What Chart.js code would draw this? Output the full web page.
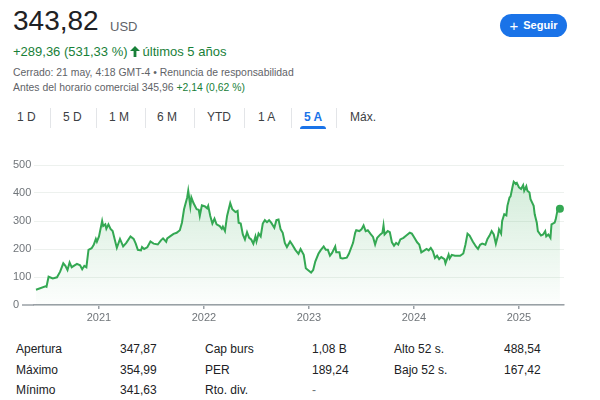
<!DOCTYPE html>
<html>
<head>
<meta charset="utf-8">
<script src="https://cdn.jsdelivr.net/npm/chart.js@4/dist/chart.umd.min.js"></script>
<style>
  body { margin: 0; width: 600px; height: 400px; background: #fff; position: relative; overflow: hidden;
         font-family: "Liberation Sans", Arial, Helvetica, sans-serif; }
  .abs { position: absolute; white-space: nowrap; line-height: 1; }
  .price { left: 13px; top: 7px; font-size: 28px; color: #202124; }
  .cur { left: 110px; top: 20px; font-size: 13px; color: #5f6368; }
  .chg { left: 13px; top: 45px; font-size: 13px; color: #188038; }
  .chg svg { vertical-align: -1px; margin: 0 3px 0 2px; }
  .meta { left: 13px; font-size: 10.4px; color: #5f6368; }
  .green { color: #188038; }
  .btn { left: 500px; top: 14px; width: 67px; height: 23px; border-radius: 12px; background: #1a73e8;
         color: #fff; font-size: 11px; font-weight: bold; display: flex; align-items: center; justify-content: center; }
  .tab { top: 111px; font-size: 12px; color: #3c4043; }
  .sep { top: 108px; width: 1px; height: 20px; background: #e3e5e8; }
  .under { left: 300px; top: 126px; width: 26px; height: 3px; border-radius: 3px 3px 0 0; background: #1a73e8; }
  .st { font-size: 12px; color: #202124; }
  #wrap { position: absolute; left: 0; top: 150px; width: 600px; height: 180px; }
</style>
</head>
<body>
<div class="abs price">343,82</div>
<div class="abs cur">USD</div>
<div class="abs chg">+289,36 (531,33 %)<svg width="10" height="11" viewBox="0 0 10 11"><path d="M5 0 L10 5 L6.4 5 L6.4 11 L3.6 11 L3.6 5 L0 5 Z" fill="#188038"/></svg>últimos 5 años</div>
<div class="abs meta" style="top:68px">Cerrado: 21 may, 4:18 GMT-4 • Renuncia de responsabilidad</div>
<div class="abs meta" style="top:83px">Antes del horario comercial 345,96 <span class="green">+2,14 (0,62 %)</span></div>
<div class="abs btn"><span style="font-size:15px;font-weight:normal;margin-right:5px;">+</span>Seguir</div>

<div id="tabs"></div>
<div class="abs under"></div>

<div id="wrap"><canvas id="chart"></canvas></div>
<div id="stats"></div>

<script>
// range tabs
const tabs = ['1 D', '5 D', '1 M', '6 M', 'YTD', '1 A', '5 A', 'Máx.'];
const tabLeft = [17, 63, 109, 157, 207, 258, 304, 350];
const sepLeft = [50, 96, 145, 194, 244, 291, 336];

// price history (decimal years, USD)
const dates = [
  2020.40, 2020.49, 2020.50, 2020.52, 2020.56, 2020.60, 2020.63, 2020.66, 2020.68, 2020.70,
  2020.72, 2020.74, 2020.79, 2020.82, 2020.84, 2020.86, 2020.88, 2020.90, 2020.93, 2020.95,
  2020.97, 2020.98, 2021.00, 2021.03, 2021.04, 2021.06, 2021.07, 2021.09, 2021.11, 2021.13,
  2021.15, 2021.17, 2021.20, 2021.23, 2021.26, 2021.30, 2021.33, 2021.35, 2021.37, 2021.40,
  2021.41, 2021.43, 2021.46, 2021.49, 2021.52, 2021.56, 2021.59, 2021.61, 2021.64, 2021.65,
  2021.68, 2021.71, 2021.74, 2021.77, 2021.79, 2021.81, 2021.84, 2021.85, 2021.87, 2021.88,
  2021.90, 2021.93, 2021.95, 2021.96, 2021.98, 2022.01, 2022.03, 2022.04, 2022.06, 2022.08,
  2022.10, 2022.12, 2022.15, 2022.17, 2022.18, 2022.20, 2022.22, 2022.25, 2022.27, 2022.30,
  2022.32, 2022.33, 2022.35, 2022.37, 2022.39, 2022.41, 2022.43, 2022.45, 2022.47, 2022.49,
  2022.50, 2022.52, 2022.54, 2022.56, 2022.58, 2022.60, 2022.62, 2022.64, 2022.67, 2022.69,
  2022.71, 2022.73, 2022.75, 2022.77, 2022.79, 2022.82, 2022.84, 2022.87, 2022.90, 2022.92,
  2022.95, 2022.97, 2022.99, 2023.02, 2023.04, 2023.06, 2023.09, 2023.11, 2023.14, 2023.16,
  2023.18, 2023.20, 2023.22, 2023.25, 2023.26, 2023.29, 2023.30, 2023.32, 2023.36, 2023.38,
  2023.42, 2023.44, 2023.45, 2023.48, 2023.50, 2023.52, 2023.54, 2023.56, 2023.59, 2023.61,
  2023.63, 2023.65, 2023.68, 2023.70, 2023.71, 2023.72, 2023.75, 2023.77, 2023.79, 2023.81,
  2023.83, 2023.85, 2023.87, 2023.90, 2023.93, 2023.96, 2023.98, 2024.00, 2024.03, 2024.05,
  2024.07, 2024.10, 2024.12, 2024.14, 2024.16, 2024.18, 2024.20, 2024.22, 2024.24, 2024.26,
  2024.29, 2024.30, 2024.33, 2024.34, 2024.36, 2024.39, 2024.44, 2024.47, 2024.49, 2024.51,
  2024.53, 2024.56, 2024.59, 2024.61, 2024.63, 2024.65, 2024.68, 2024.70, 2024.72, 2024.74,
  2024.76, 2024.78, 2024.80, 2024.81, 2024.83, 2024.84, 2024.86, 2024.88, 2024.89, 2024.91,
  2024.92, 2024.94, 2024.95, 2024.97, 2024.98, 2025.00, 2025.02, 2025.04, 2025.05, 2025.07,
  2025.08, 2025.10, 2025.11, 2025.14, 2025.15, 2025.17, 2025.18, 2025.21, 2025.23, 2025.25,
  2025.26, 2025.28, 2025.30, 2025.31, 2025.34, 2025.35, 2025.37, 2025.39
];
const prices = [
  54.46, 67, 65, 101, 95, 99, 119, 149, 140, 125,
  152, 135, 147, 142, 128, 140, 135, 197, 203, 215,
  236, 226, 245, 300, 282, 288, 272, 288, 272, 264,
  234, 204, 236, 209, 222, 245, 236, 219, 197, 195,
  207, 200, 206, 227, 219, 216, 231, 238, 226, 238,
  246, 254, 258, 267, 294, 342, 384, 408, 352, 384,
  364, 342, 340, 318, 356, 352, 345, 354, 318, 291,
  308, 288, 282, 272, 280, 264, 318, 364, 342, 332,
  336, 294, 291, 252, 234, 260, 240, 234, 219, 245,
  227, 255, 245, 291, 303, 296, 303, 294, 276, 303,
  305, 270, 258, 222, 207, 227, 216, 197, 183, 200,
  179, 131, 125, 116, 125, 155, 183, 195, 209, 197,
  197, 176, 186, 209, 188, 188, 168, 166, 169, 183,
  222, 258, 267, 264, 270, 284, 264, 267, 252, 243,
  216, 240, 252, 258, 284, 252, 264, 260, 224, 212,
  222, 216, 234, 240, 249, 258, 255, 243, 224, 216,
  188, 195, 200, 195, 204, 192, 168, 176, 164, 171,
  164, 149, 180, 166, 179, 176, 176, 184, 215, 255,
  248, 227, 209, 200, 215, 219, 215, 236, 248, 264,
  252, 219, 248, 270, 255, 300, 324, 320, 354, 384,
  388, 424, 440, 432, 436, 420, 414, 428, 408, 424,
  408, 402, 378, 354, 324, 294, 264, 248, 252, 264,
  245, 252, 240, 288, 294, 306, 344, 343.82
];
const yearTicks = [2021, 2022, 2023, 2024, 2025];
const valueTicks = [0, 100, 200, 300, 400, 500];

// key stats
const statLabels = [['Apertura', 'Máximo', 'Mínimo'], ['Cap burs', 'PER', 'Rto. div.'], ['Alto 52 s.', 'Bajo 52 s.']];
const statValues = [['347,87', '354,99', '341,63'], ['1,08 B', '189,24', '-'], ['488,54', '167,42']];
const statCols = [[16, 120], [205, 312], [394, 504]];
const statRows = [343, 364, 384];

const tabBox = document.getElementById('tabs');
tabs.forEach((t, i) => {
  const d = document.createElement('div');
  d.className = 'abs tab';
  d.style.left = tabLeft[i] + 'px';
  if (t === '5 A') { d.style.color = '#1a73e8'; d.style.fontWeight = 'bold'; }
  d.textContent = t;
  tabBox.appendChild(d);
});
sepLeft.forEach((x) => {
  const s = document.createElement('div');
  s.className = 'abs sep';
  s.style.left = x + 'px';
  tabBox.appendChild(s);
});

const statBox = document.getElementById('stats');
statLabels.forEach((col, c) => {
  col.forEach((lab, r) => {
    const a = document.createElement('div');
    a.className = 'abs st';
    a.style.left = statCols[c][0] + 'px';
    a.style.top = statRows[r] + 'px';
    a.textContent = lab;
    statBox.appendChild(a);
    const b = document.createElement('div');
    b.className = 'abs st';
    b.style.left = statCols[c][1] + 'px';
    b.style.top = statRows[r] + 'px';
    b.textContent = statValues[c][r];
    if (statValues[c][r] === '-') b.style.color = '#70757a';
    statBox.appendChild(b);
  });
});

const green = '#34a853';

// baseline runs a little past the y labels, like the original
const baseLine = {
  id: 'baseLine',
  afterDraw(chart) {
    const { ctx, chartArea, scales } = chart;
    const y = scales.y.getPixelForValue(0);
    ctx.save();
    ctx.strokeStyle = '#9aa0a6';
    ctx.lineWidth = 1.5;
    ctx.beginPath();
    ctx.moveTo(22, y);
    ctx.lineTo(chartArea.left, y);
    ctx.stroke();
    ctx.restore();
  }
};

new Chart(document.getElementById('chart').getContext('2d'), {
  type: 'line',
  data: {
    datasets: [{
      data: dates.map((d, i) => ({ x: d, y: prices[i] })),
      borderColor: green,
      borderWidth: 2,
      tension: 0,
      pointRadius: (c) => (c.dataIndex === prices.length - 1 ? 4 : 0),
      pointBackgroundColor: green,
      pointBorderWidth: 0,
      fill: 'origin',
      backgroundColor: (c) => {
        const area = c.chart.chartArea;
        if (!area) return 'rgba(52,168,83,0.1)';
        const g = c.chart.ctx.createLinearGradient(0, area.top, 0, area.bottom);
        g.addColorStop(0, 'rgba(52,168,83,0.24)');
        g.addColorStop(1, 'rgba(52,168,83,0.01)');
        return g;
      }
    }]
  },
  options: {
    responsive: true,
    maintainAspectRatio: false,
    animation: false,
    layout: { padding: { left: 13, right: 36, top: 15, bottom: 0 } },
    plugins: { legend: { display: false }, tooltip: { enabled: false } },
    scales: {
      x: {
        type: 'linear',
        min: 2020.381,
        max: 2025.429,
        afterBuildTicks: (s) => { s.ticks = yearTicks.map((v) => ({ value: v })); },
        afterFit: (s) => { s.height = 25; },
        ticks: { color: '#70757a', font: { family: 'Liberation Sans', size: 11 }, padding: 2, maxRotation: 0,
                 callback: (v) => String(v) },
        grid: { drawOnChartArea: false, drawTicks: true, tickLength: 4, color: '#9aa0a6', lineWidth: 1.5 },
        border: { display: true, color: '#9aa0a6', width: 1.5 }
      },
      y: {
        min: 0,
        max: 500,
        afterBuildTicks: (s) => { s.ticks = valueTicks.map((v) => ({ value: v })); },
        afterFit: (s) => { s.width = 21; },
        ticks: { color: '#70757a', font: { family: 'Liberation Sans', size: 11 }, padding: 2, crossAlign: 'far' },
        grid: { color: '#edf1ee', drawTicks: false, lineWidth: 1 },
        border: { display: false }
      }
    }
  },
  plugins: [baseLine]
});
</script>
</body>
</html>
